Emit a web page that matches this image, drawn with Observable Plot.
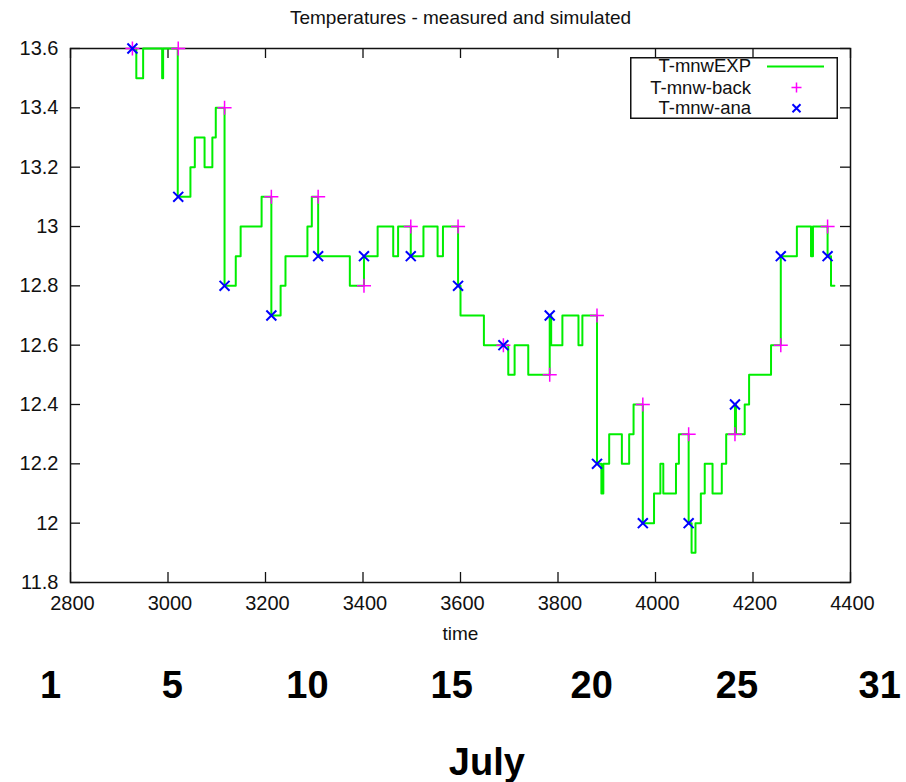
<!DOCTYPE html>
<html>
<head>
<meta charset="utf-8">
<script src="https://cdn.jsdelivr.net/npm/d3@7"></script>
<script src="https://cdn.jsdelivr.net/npm/@observablehq/plot@0.6"></script>
<style>
  body { margin: 0; background: #fff; }
  #wrap { position: relative; width: 906px; height: 782px; font-family: "Liberation Sans", Arial, sans-serif; }
  #wrap svg.plot { position: absolute; left: 0; top: 0; }
</style>
</head>
<body>
<div id="wrap"></div>
<script>
// ---- data ----
const chartTitle = "Temperatures - measured and simulated";
const xLabel = "time";
const seriesNames = ["T-mnwEXP", "T-mnw-back", "T-mnw-ana"];
const seriesColors = ["#00ee00", "#ff00ff", "#0000ff"];

// simulated (step) series: time and temperature
const expTimes = [2927, 2935, 2949, 2988, 2990, 3020, 3046, 3055, 3075, 3091, 3098,
  3116, 3139, 3149, 3192, 3212, 3231, 3241, 3286, 3295, 3308, 3373, 3402, 3430,
  3462, 3472, 3498, 3524, 3553, 3564, 3595, 3600, 3648, 3698, 3711, 3739, 3783,
  3786, 3809, 3842, 3850, 3880, 3889, 3893, 3905, 3931, 3946, 3955, 3974, 3997,
  4010, 4016, 4042, 4048, 4068, 4074, 4082, 4093, 4101, 4117, 4136, 4145, 4163,
  4165, 4183, 4192, 4237, 4257, 4290, 4319, 4323, 4353, 4360, 4367];
const expTemps = [13.6, 13.5, 13.6, 13.5, 13.6, 13.1, 13.2, 13.3, 13.2, 13.3, 13.4,
  12.8, 12.9, 13.0, 13.1, 12.7, 12.8, 12.9, 13.0, 13.1, 12.9, 12.8, 12.9, 13.0,
  12.9, 13.0, 12.9, 13.0, 12.9, 13.0, 12.8, 12.7, 12.6, 12.5, 12.6, 12.5, 12.7,
  12.6, 12.7, 12.6, 12.7, 12.2, 12.1, 12.2, 12.3, 12.2, 12.3, 12.4, 12.0, 12.1,
  12.2, 12.1, 12.2, 12.3, 12.0, 11.9, 12.0, 12.1, 12.2, 12.1, 12.2, 12.3, 12.4,
  12.3, 12.4, 12.5, 12.6, 12.9, 13.0, 12.9, 13.0, 12.9, 12.8, 12.8];

// measurement times with background and analysis values
const measTimes = [2927, 3021, 3116, 3212, 3308, 3402, 3498, 3595, 3688, 3783,
  3880, 3974, 4068, 4163, 4257, 4353];
const backTemps = [13.6, 13.6, 13.4, 13.1, 13.1, 12.8, 13.0, 13.0, 12.6, 12.5,
  12.7, 12.4, 12.3, 12.3, 12.6, 13.0];
const anaTemps = [13.6, 13.1, 12.8, 12.7, 12.9, 12.9, 12.9, 12.8, 12.6, 12.7,
  12.2, 12.0, 12.0, 12.4, 12.9, 12.9];

const xTicks = [2800, 3000, 3200, 3400, 3600, 3800, 4000, 4200, 4400];
const yTicks = [11.8, 12, 12.2, 12.4, 12.6, 12.8, 13, 13.2, 13.4, 13.6];

// day-of-month labels under the axis, placed at the matching time
const dayLabels = ["1", "5", "10", "15", "20", "25", "31"];
const dayTimes = [2759, 3009, 3286, 3582, 3869, 4167, 4460];
const monthLabel = "July";
const monthTime = 3654;

// ---- build ----
const expData = expTimes.map((t, i) => ({t, v: expTemps[i]}));
const backData = measTimes.map((t, i) => ({t, v: backTemps[i]}));
const anaData = measTimes.map((t, i) => ({t, v: anaTemps[i]}));

const W = 906, H = 782, mL = 70, mR = 56, mT = 48, mB = 200;
const fw = W - mL - mR, fh = H - mT - mB, tl = 10;
const ink = "#111";

const chart = Plot.plot({
  width: W, height: H,
  marginLeft: mL, marginRight: mR, marginTop: mT, marginBottom: mB,
  x: {domain: [xTicks[0], xTicks[xTicks.length - 1]]},
  y: {domain: [yTicks[0], yTicks[yTicks.length - 1]]},
  style: {fontFamily: '"Liberation Sans", Arial, sans-serif', background: "white", color: ink},
  marks: [
    Plot.frame({stroke: ink, strokeWidth: 1.5}),
    Plot.tickX(xTicks, {insetTop: fh - tl, stroke: ink, strokeWidth: 1.3}),
    Plot.tickX(xTicks, {insetBottom: fh - tl, stroke: ink, strokeWidth: 1.3}),
    Plot.tickY(yTicks, {insetRight: fw - tl, stroke: ink, strokeWidth: 1.3}),
    Plot.tickY(yTicks, {insetLeft: fw - tl, stroke: ink, strokeWidth: 1.3}),
    Plot.axisX({ticks: xTicks, tickSize: 0, tickPadding: 13, fontSize: 20, label: null, dx: 2, tickFormat: d => String(d)}),
    Plot.axisY({ticks: yTicks, tickSize: 0, tickPadding: 12, fontSize: 20, label: null, tickFormat: d => String(d)}),
    Plot.text([xLabel], {frameAnchor: "bottom", lineAnchor: "middle", dy: 51, fontSize: 19}),
    Plot.text([chartTitle], {frameAnchor: "top", lineAnchor: "middle", dy: -31, fontSize: 19}),
    Plot.line(expData, {x: "t", y: "v", curve: "step-after", stroke: seriesColors[0], strokeWidth: 2}),
    Plot.dot(backData, {x: "t", y: "v", symbol: "plus", r: 4.6, stroke: seriesColors[1], strokeWidth: 1.5}),
    Plot.dot(anaData, {x: "t", y: "v", symbol: "times", r: 4.6, stroke: seriesColors[2], strokeWidth: 2}),
    Plot.text(dayLabels, {x: (d, i) => dayTimes[i], frameAnchor: "bottom", lineAnchor: "middle", dy: 103, fontSize: 38, fontWeight: "bold", fill: "#000"}),
    Plot.text([monthLabel], {x: () => monthTime, frameAnchor: "bottom", lineAnchor: "middle", dy: 180, fontSize: 38, fontWeight: "bold", fill: "#000"})
  ]
});
chart.classList.add("plot");
document.getElementById("wrap").appendChild(chart);

// ---- legend box (gnuplot style) ----
const ns = "http://www.w3.org/2000/svg";
const off = 8;
const lg = document.createElementNS(ns, "svg");
lg.setAttribute("width", 208);
lg.setAttribute("height", 62 + off);
lg.style.position = "absolute"; lg.style.left = "630px"; lg.style.top = (57 - off) + "px";
function el(tag, attrs, txt) {
  const e = document.createElementNS(ns, tag);
  for (const k in attrs) e.setAttribute(k, attrs[k]);
  if (txt != null) e.textContent = txt;
  lg.appendChild(e);
  return e;
}
el("rect", {x: 0.75, y: off + 0.75, width: 206.5, height: 60.5, fill: "white", stroke: ink, "stroke-width": 1.5});
const baselines = [14.5, 37, 57].map(v => v + off);
const symCy = [9.5, 30.5, 51.3].map(v => v + off);
seriesNames.forEach((name, i) => {
  el("text", {x: 121, y: baselines[i], "text-anchor": "end", "font-size": 18.5,
    "font-family": '"Liberation Sans", Arial, sans-serif', fill: ink}, name);
});
el("line", {x1: 137, x2: 194, y1: symCy[0], y2: symCy[0], stroke: seriesColors[0], "stroke-width": 2});
el("path", {d: `M161.5,${symCy[1]}H171.5M166.5,${symCy[1] - 5}V${symCy[1] + 5}`, stroke: seriesColors[1], "stroke-width": 1.5, fill: "none"});
el("path", {d: `M162.5,${symCy[2] - 4}L170.5,${symCy[2] + 4}M162.5,${symCy[2] + 4}L170.5,${symCy[2] - 4}`, stroke: seriesColors[2], "stroke-width": 2, fill: "none"});
document.getElementById("wrap").appendChild(lg);
</script>
</body>
</html>
